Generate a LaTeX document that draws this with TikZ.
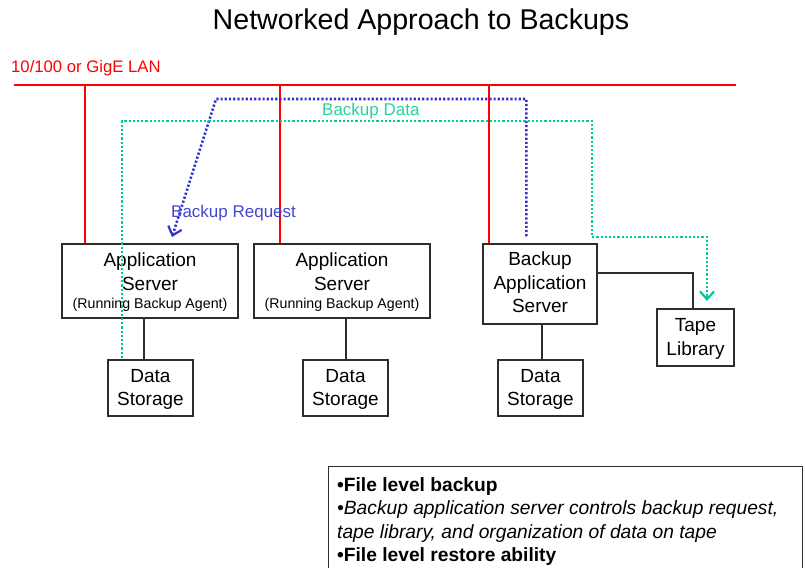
\documentclass[tikz,border=0pt]{standalone}
\usepackage{fontspec}
\setmainfont{Liberation Sans}
\usetikzlibrary{arrows.meta}
\definecolor{lanred}{RGB}{255,0,0}
\definecolor{reqblue}{RGB}{51,51,204}
\definecolor{reqtext}{RGB}{70,70,210}
\definecolor{datagreen}{RGB}{0,204,153}
\definecolor{datatext}{RGB}{40,210,160}
\definecolor{boxgray}{RGB}{45,45,45}
\begin{document}
\begin{tikzpicture}[x=1pt,y=-1pt,
  box/.style={draw=boxgray,line width=1.3pt,inner sep=0pt},
  lbl/.style={inner sep=0pt,anchor=base,font=\fontsize{19}{23}\selectfont},
  small/.style={inner sep=0pt,anchor=base,font=\fontsize{14.2}{16}\selectfont},
  note/.style={inner sep=0pt,anchor=base west},
  wire/.style={draw=boxgray,line width=1.3pt},
  lan/.style={draw=lanred,line width=2pt},
  req/.style={draw=reqblue,line width=2.6pt,dash pattern=on 2.2pt off 2pt},
  dat/.style={draw=datagreen,line width=2.6pt,dash pattern=on 2.2pt off 2pt},
  tip/.style={-{Straight Barb[length=8pt,width=14pt,line width=2.2pt]}}]
\useasboundingbox (0,0) rectangle (805,567);

% title
\node[inner sep=0pt,anchor=base,font=\fontsize{28.6}{31}\selectfont] (title) at (421,30) {Networked Approach to Backups};

% LAN backbone
\node[inner sep=0pt,anchor=base west,text=lanred,font=\fontsize{16.7}{18}\selectfont] (lanlabel) at (11,73) {10/100 or GigE LAN};
\coordinate (lanW) at (14,85);
\coordinate (lanE) at (736,85);
\draw[lan] (lanW) -- (lanE);

% servers
\node[box,minimum width=176pt,minimum height=74pt] (b1) at (150,281) {};
\node[lbl] (b1a) at (150,266) {Application};
\node[lbl] (b1b) at (150,290) {Server};
\node[small] (b1c) at (150,308) {(Running Backup Agent)};

\node[box,minimum width=176pt,minimum height=74pt] (b2) at (342,281) {};
\node[lbl] (b2a) at (342,266) {Application};
\node[lbl] (b2b) at (342,290) {Server};
\node[small] (b2c) at (342,308) {(Running Backup Agent)};

\node[box,minimum width=114pt,minimum height=80pt] (b3) at (540,284) {};
\node[lbl] (b3a) at (540,265) {Backup};
\node[lbl] (b3b) at (540,289) {Application};
\node[lbl] (b3c) at (540,312) {Server};

\node[box,minimum width=77pt,minimum height=57pt] (tape) at (695.5,337.5) {};
\node[lbl] (tapea) at (695.5,331) {Tape};
\node[lbl] (tapeb) at (695.5,355) {Library};

% storage
\node[box,minimum width=85pt,minimum height=56pt] (d1) at (150.5,388) {};
\node[lbl] (d1a) at (150.5,382) {Data};
\node[lbl] (d1b) at (150.5,405) {Storage};
\node[box,minimum width=85pt,minimum height=56pt] (d2) at (345.5,388) {};
\node[lbl] (d2a) at (345.5,382) {Data};
\node[lbl] (d2b) at (345.5,405) {Storage};
\node[box,minimum width=85pt,minimum height=56pt] (d3) at (540.5,388) {};
\node[lbl] (d3a) at (540.5,382) {Data};
\node[lbl] (d3b) at (540.5,405) {Storage};

% LAN drops
\draw[lan] ([xshift=24pt]b1.north west) -- ([xshift=24pt]b1.north west |- lanW);
\draw[lan] ([xshift=27pt]b2.north west) -- ([xshift=27pt]b2.north west |- lanW);
\draw[lan] ([xshift=7pt]b3.north west) -- ([xshift=7pt]b3.north west |- lanW);

% local attachments
\draw[wire] ([xshift=-6pt]b1.south) -- ([xshift=-6pt]b1.south |- d1.north);
\draw[wire] ([xshift=4pt]b2.south) -- ([xshift=4pt]b2.south |- d2.north);
\draw[wire] ([xshift=2pt]b3.south) -- ([xshift=2pt]b3.south |- d3.north);
\draw[wire] ([yshift=11pt]b3.east) -| ([xshift=-2.5pt]tape.north);

% backup request flow
\coordinate (reqS) at ([shift={(44pt,7pt)}]b3.north west);
\coordinate (reqC) at (216,99);
\coordinate (reqT) at (172,237);
\draw[req,tip] (reqS) |- (reqC) -- (reqT);
\node[inner sep=0pt,anchor=base west,text=reqtext,font=\fontsize{17}{19}\selectfont] (reqlabel) at (171,217) {Backup Request};

% backup data flow
\coordinate (datS) at (122,358);
\coordinate (dat1) at (592,121);
\coordinate (dat2) at (707,237);
\coordinate (datT) at (707,301);
\draw[dat,tip] (datS) |- (dat1) |- (dat2) -- (datT);
\node[inner sep=0pt,anchor=base west,text=datatext,font=\fontsize{17}{19}\selectfont] (datlabel) at (322,116) {Backup Data};

% notes
\node[box,minimum width=474pt,minimum height=140pt,anchor=north west] (notes) at (328,466) {};
\node[note,font=\fontsize{19.2}{22}\selectfont\bfseries] (n1) at (337,491) {•File level backup};
\node[note,font=\fontsize{19.2}{22}\selectfont\itshape] (n2) at (337,514) {•Backup application server controls backup request,};
\node[note,font=\fontsize{19.2}{22}\selectfont\itshape] (n3) at (337,538) {tape library, and organization of data on tape};
\node[note,font=\fontsize{19.2}{22}\selectfont\bfseries] (n4) at (337,561) {•File level restore ability};
\end{tikzpicture}
\end{document}
